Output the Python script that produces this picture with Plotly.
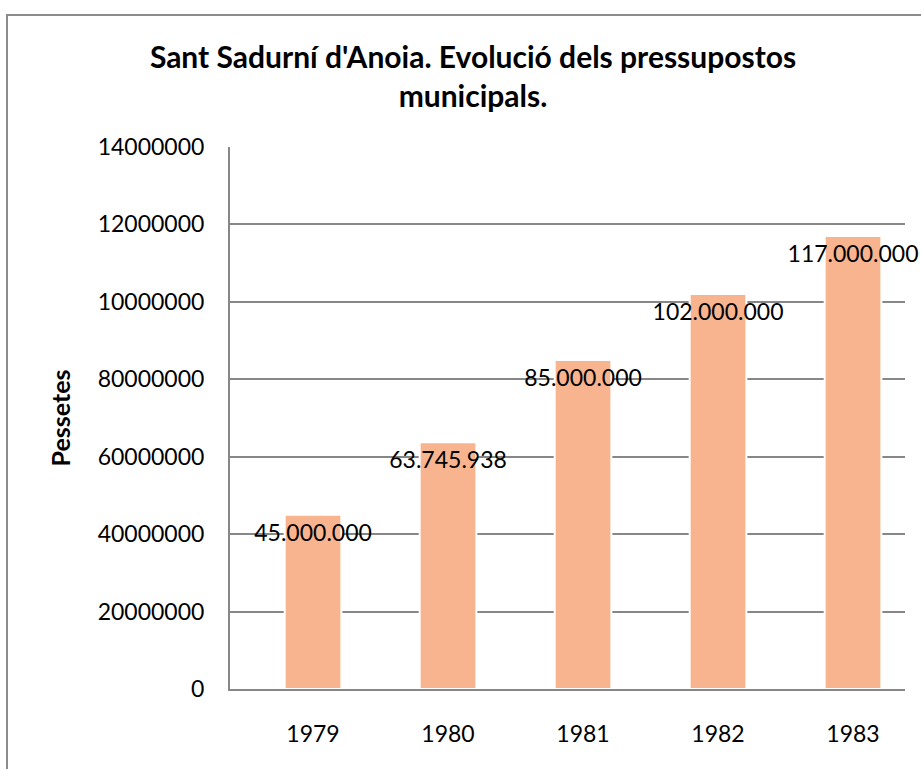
import plotly.graph_objects as go

years = ["1979", "1980", "1981", "1982", "1983"]
budget = [45000000, 63745938, 85000000, 102000000, 117000000]
budget_labels = ["45.000.000", "63.745.938", "85.000.000", "102.000.000", "117.000.000"]

y_tickvals = [0, 20000000, 40000000, 60000000, 80000000, 100000000, 120000000, 140000000]
y_ticktext = ["0", "20000000", "40000000", "60000000", "80000000", "10000000", "12000000", "14000000"]

FONT = "Lato"
BAR_COLOR = "#F7B48E"
GRID = "#878787"

fig = go.Figure()
fig.add_trace(go.Bar(
    x=years, y=budget, width=0.42,
    marker=dict(color=BAR_COLOR, line=dict(color="white", width=2)),
    text=budget_labels, textposition="inside", insidetextanchor="end",
    constraintext="none", textangle=0,
    insidetextfont=dict(family=FONT, size=23, color="black"),
    cliponaxis=False,
    showlegend=False,
))

fig.update_layout(
    width=921, height=769,
    paper_bgcolor="white", plot_bgcolor="white",
    margin=dict(l=230, r=16, t=147, b=80),
    font=dict(family=FONT, color="black"),
    title=dict(
        text="<b>Sant Sadurní d'Anoia. Evolució dels pressupostos<br>municipals.</b>",
        x=473 / 921, xanchor="center", xref="container",
        y=1 - 67.5 / 769, yanchor="middle",
        font=dict(family=FONT, size=30, color="black"),
    ),
    shapes=[dict(
        type="rect", xref="paper", yref="paper",
        x0=(7 - 230) / 675, x1=1.2, y0=-0.3, y1=1 + (147 - 15) / 542,
        line=dict(color="#8C8C8C", width=2),
    )],
)

# bands are offset to the right in the original (Excel-style)
fig.update_xaxes(
    type="category", range=[-0.615, 4.385],
    showline=True, linecolor=GRID, linewidth=2,
    showgrid=False, ticks="outside", ticklen=23, tickcolor="rgba(0,0,0,0)",
    tickfont=dict(family=FONT, size=23, color="black"),
)
fig.update_yaxes(
    range=[0, 140000000],
    tickvals=y_tickvals, ticktext=y_ticktext,
    showline=True, linecolor=GRID, linewidth=2,
    showgrid=True, gridcolor=GRID, gridwidth=1.5,
    zeroline=False, ticks="outside", ticklen=19, tickcolor="rgba(0,0,0,0)",
    tickfont=dict(family=FONT, size=23, color="black"),
    title=dict(text="<b>Pessetes</b>", font=dict(family=FONT, size=25, color="black"), standoff=20),
)

fig.write_html(
    "out.html",
    config={"displayModeBar": False},
    post_script="document.body.style.margin = '0';",
)
